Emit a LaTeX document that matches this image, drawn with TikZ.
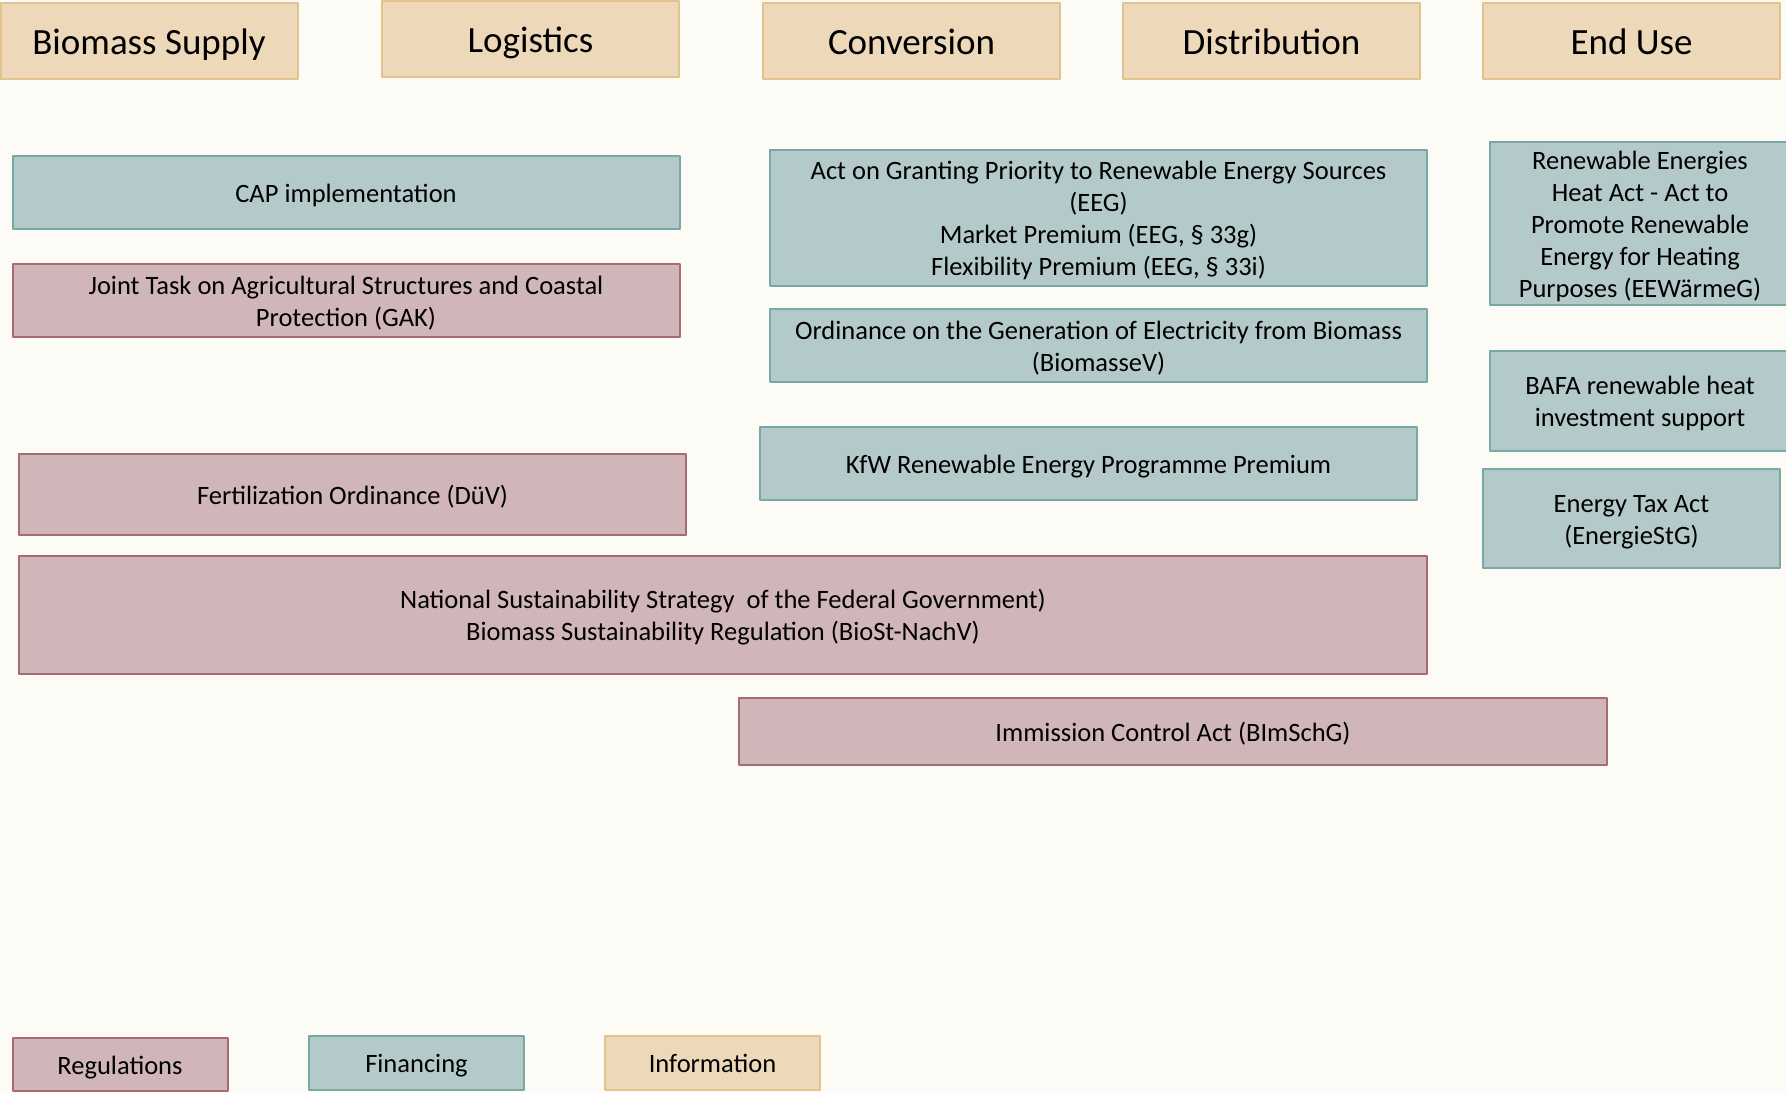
\documentclass[tikz,border=0pt]{standalone}
\usepackage{fontspec}
\setmainfont{Carlito}
\definecolor{bgpaper}{HTML}{FCFBF6}
\definecolor{infofill}{HTML}{EDD9BA}
\definecolor{infoline}{HTML}{E2C38E}
\definecolor{finfill}{HTML}{B4CACA}
\definecolor{finline}{HTML}{79A9A5}
\definecolor{regfill}{HTML}{D0B6B9}
\definecolor{regline}{HTML}{A96A76}
\begin{document}
\begin{tikzpicture}[x=1pt,y=-1pt,line join=round,
  box/.style={draw,line width=2pt,rectangle,inner sep=0pt,align=flush center,
    font=\fontsize{26.5}{32}\selectfont,
    execute at begin node={\rule{0pt}{0.97em}},
    execute at end node={\rule[-0.24em]{0pt}{0pt}}},
  wd/.style={minimum width=#1pt,text width=#1pt},
  info/.style={box,fill=infofill,draw=infoline},
  fin/.style={box,fill=finfill,draw=finline},
  reg/.style={box,fill=regfill,draw=regline},
  head/.style={info,wd=297,minimum height=76,
    font=\fontsize{37}{44}\selectfont}]
\useasboundingbox[fill=bgpaper] (0,0) rectangle (1786,1093);
% value chain
\node[head] (supply) at (149,41) {Biomass Supply};
\node[head] (logistics) at (530.5,38.5) {Logistics};
\node[head] (conversion) at (911.5,41) {Conversion};
\node[head] (distribution) at (1271.5,41) {Distribution};
\node[head] (enduse) at (1631.5,41) {End Use};
% instruments
\node[fin,wd=667,minimum height=73] (cap) at (346,192.5) {CAP implementation};
\node[reg,wd=667,minimum height=73] (gak) at (346,300.5)
  {Joint Task on Agricultural Structures and Coastal\\Protection (GAK)};
\node[reg,wd=667,minimum height=81] (duev) at (352.5,494.5) {Fertilization Ordinance (DüV)};
\node[reg,wd=1408,minimum height=118] (nss) at (723,615)
  {National Sustainability Strategy~ of the Federal Government)\\Biomass Sustainability Regulation (BioSt-NachV)};
\node[reg,wd=868,minimum height=67] (bimschg) at (1173,731.5) {Immission Control Act (BImSchG)};
\node[fin,wd=657,minimum height=136] (eeg) at (1098.5,218)
  {Act on Granting Priority to Renewable Energy Sources\\(EEG)\\Market Premium (EEG, § 33g)\\Flexibility Premium (EEG, § 33i)};
\node[fin,wd=657,minimum height=73] (biomassev) at (1098.5,345.5)
  {Ordinance on the Generation of Electricity from Biomass\\(BiomasseV)};
\node[fin,wd=657,minimum height=73] (kfw) at (1088.5,463.5) {KfW Renewable Energy Programme Premium};
\node[fin,wd=300,minimum height=163] (eewg) at (1640,223.5)
  {Renewable Energies\\Heat Act - Act to\\Promote Renewable\\Energy for Heating\\Purposes (EEWärmeG)};
\node[fin,wd=300,minimum height=100] (bafa) at (1640,401)
  {BAFA renewable heat\\investment support};
\node[fin,wd=297,minimum height=99] (energiestg) at (1631.5,518.5)
  {Energy Tax Act\\(EnergieStG)};
% legend
\node[reg,wd=215,minimum height=53] (lreg) at (120,1064.5) {Regulations};
\node[fin,wd=215,minimum height=54] (lfin) at (416.5,1063) {Financing};
\node[info,wd=215,minimum height=54] (linfo) at (712.5,1063) {Information};
\end{tikzpicture}
\end{document}
